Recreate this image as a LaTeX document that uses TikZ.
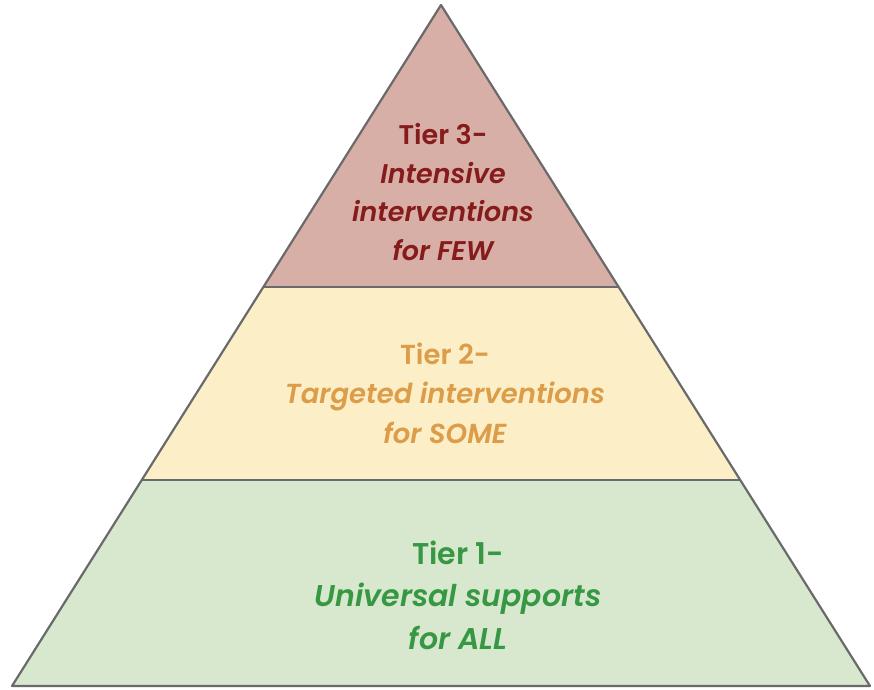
\documentclass[tikz,border=0pt]{standalone}
\usepackage{fontspec}
\setmainfont{Poppins}[UprightFont=* SemiBold, ItalicFont=* SemiBold Italic]
\definecolor{fillthree}{HTML}{D8AFA7}
\definecolor{filltwo}{HTML}{FCEFC8}
\definecolor{fillone}{HTML}{D8E8CF}
\definecolor{txtthree}{HTML}{861B1B}
\definecolor{txttwo}{HTML}{DC9C48}
\definecolor{txtone}{HTML}{369842}
\definecolor{edge}{HTML}{6A6A6A}
\begin{document}
\begin{tikzpicture}[x=1pt,y=-1pt,
  tierlabel/.style={align=center, inner sep=0pt},
  outline/.style={draw=edge, line width=2.2pt, line join=round}]
\useasboundingbox (0,0) rectangle (874,689);
\coordinate (A) at (441,5);
\coordinate (BL) at (12,686);
\coordinate (BR) at (870,686);
\coordinate (ML) at (263.4,287);
\coordinate (MR) at (618.6,287);
\coordinate (LL) at (142,480);
\coordinate (LR) at (740,480);
\fill[fillthree] (A) -- (MR) -- (ML) -- cycle;
\fill[filltwo] (ML) -- (MR) -- (LR) -- (LL) -- cycle;
\fill[fillone] (LL) -- (LR) -- (BR) -- (BL) -- cycle;
\draw[outline] (A) -- (BR) -- (BL) -- cycle;
\draw[outline] (ML) -- (MR);
\draw[outline] (LL) -- (LR);
\node[tierlabel, text=txtthree, font=\fontsize{27}{38.5}\selectfont] (t3) at (443,192) {Tier 3-\\\itshape Intensive\\\itshape interventions\\\itshape for FEW};
\node[tierlabel, text=txttwo, font=\fontsize{27.5}{39.5}\selectfont] (t2) at (445,393) {Tier 2-\\\itshape Targeted interventions\\\itshape for SOME};
\node[tierlabel, text=txtone, font=\fontsize{30}{42.5}\selectfont] (t1) at (458,595) {Tier 1-\\\itshape Universal supports\\\itshape for ALL};
\end{tikzpicture}
\end{document}
